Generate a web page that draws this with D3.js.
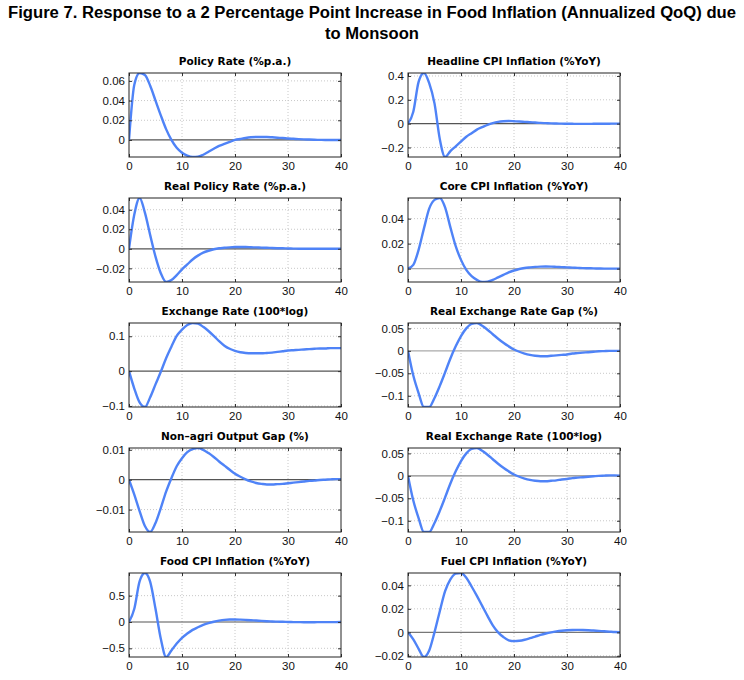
<!DOCTYPE html>
<html>
<head>
<meta charset="utf-8">
<script src="https://cdn.jsdelivr.net/npm/d3@7"></script>
<style>
  body { margin: 0; background: #fff; }
  svg { font-family: "Liberation Sans", Arial, sans-serif; }
</style>
</head>
<body>
<svg id="chart"></svg>
<script>
// quarters 0..40
const quarters = d3.range(0, 41);

const titles = [
  "Policy Rate (%p.a.)", "Headline CPI Inflation (%YoY)",
  "Real Policy Rate (%p.a.)", "Core CPI Inflation (%YoY)",
  "Exchange Rate (100*log)", "Real Exchange Rate Gap (%)",
  "Non\u2013agri Output Gap (%)", "Real Exchange Rate (100*log)",
  "Food CPI Inflation (%YoY)", "Fuel CPI Inflation (%YoY)"
];

const policyRate = [0, 0.056, 0.068, 0.066, 0.055, 0.040, 0.025, 0.011, 0.000, -0.008,
  -0.013, -0.016, -0.0173, -0.017, -0.015, -0.012, -0.009, -0.006, -0.004, -0.002,
  0.000, 0.001, 0.002, 0.0027, 0.003, 0.003, 0.003, 0.0027, 0.0023, 0.002,
  0.0015, 0.0012, 0.0009, 0.0006, 0.0004, 0.0002, 0.0001, 0, 0, 0, 0];
const headlineCpi = [0, 0.10, 0.35, 0.425, 0.34, 0.17, -0.13, -0.28, -0.23, -0.19,
  -0.15, -0.11, -0.08, -0.05, -0.03, -0.01, 0.005, 0.015, 0.02, 0.022,
  0.02, 0.018, 0.015, 0.012, 0.009, 0.006, 0.004, 0.002, 0.001, 0,
  -0.001, -0.0015, -0.002, -0.002, -0.002, -0.0015, -0.001, -0.001, -0.0005, 0, 0];
const realPolicyRate = [0, 0.035, 0.052, 0.037, 0.014, -0.008, -0.025, -0.034, -0.032, -0.027,
  -0.021, -0.016, -0.011, -0.007, -0.004, -0.002, -0.0005, 0.0005, 0.001, 0.0015,
  0.0018, 0.0019, 0.0018, 0.0016, 0.0014, 0.0012, 0.001, 0.0008, 0.0006, 0.0005,
  0.0003, 0.0002, 0.0001, 0, 0, 0, 0, 0, 0, 0, 0];
const coreCpi = [0, 0.003, 0.015, 0.032, 0.048, 0.055, 0.0565, 0.049, 0.033, 0.018,
  0.007, -0.001, -0.006, -0.009, -0.0107, -0.0105, -0.009, -0.007, -0.005, -0.003,
  -0.0015, -0.0003, 0.0005, 0.001, 0.0014, 0.0016, 0.0017, 0.0016, 0.0014, 0.0012,
  0.001, 0.0008, 0.0006, 0.0004, 0.0003, 0.0002, 0.0001, 0, 0, 0, 0];
const exchangeRate = [0, -0.05, -0.09, -0.103, -0.075, -0.038, -0.002, 0.037, 0.07, 0.101,
  0.119, 0.132, 0.138, 0.136, 0.127, 0.115, 0.101, 0.086, 0.073, 0.064,
  0.058, 0.054, 0.052, 0.051, 0.051, 0.051, 0.052, 0.053, 0.055, 0.057,
  0.059, 0.06, 0.061, 0.062, 0.063, 0.064, 0.065, 0.065, 0.066, 0.066, 0.066];
const realExchangeRateGap = [0, -0.055, -0.094, -0.125, -0.125, -0.105, -0.078, -0.048, -0.017, 0.01,
  0.033, 0.05, 0.06, 0.062, 0.056, 0.047, 0.037, 0.027, 0.018, 0.01,
  0.003, -0.002, -0.006, -0.009, -0.011, -0.012, -0.012, -0.011, -0.01, -0.009,
  -0.008, -0.006, -0.005, -0.004, -0.003, -0.002, -0.001, -0.0005, 0, 0, 0];
const outputGap = [0, -0.005, -0.0105, -0.0155, -0.0175, -0.0145, -0.0095, -0.004, 0.0005, 0.0045,
  0.0072, 0.0092, 0.0102, 0.0106, 0.01, 0.0089, 0.0076, 0.0061, 0.0047, 0.0033,
  0.002, 0.001, 0.0001, -0.0006, -0.0011, -0.0014, -0.0016, -0.0016, -0.0015, -0.0014,
  -0.0012, -0.001, -0.0008, -0.0006, -0.0004, -0.0003, -0.0001, 0, 0.0001, 0.0002, 0.0002];
const realExchangeRate = [0, -0.055, -0.094, -0.125, -0.125, -0.105, -0.078, -0.048, -0.017, 0.01,
  0.033, 0.05, 0.06, 0.062, 0.056, 0.047, 0.037, 0.027, 0.018, 0.01,
  0.003, -0.002, -0.006, -0.009, -0.011, -0.012, -0.012, -0.011, -0.01, -0.008,
  -0.007, -0.005, -0.004, -0.003, -0.002, -0.001, 0, 0.0005, 0.001, 0.001, 0.0005];
const foodCpi = [0, 0.25, 0.77, 0.93, 0.76, 0.25, -0.32, -0.665, -0.54, -0.41,
  -0.3, -0.22, -0.15, -0.1, -0.055, -0.02, 0.005, 0.025, 0.04, 0.046,
  0.047, 0.044, 0.039, 0.033, 0.027, 0.021, 0.015, 0.01, 0.006, 0.003,
  0, -0.002, -0.003, -0.004, -0.004, -0.004, -0.003, -0.003, -0.002, -0.002, -0.001];
const fuelCpi = [0, -0.006, -0.014, -0.021, -0.0155, 0, 0.018, 0.035, 0.045, 0.05,
  0.0505, 0.0465, 0.039, 0.031, 0.0225, 0.014, 0.006, 0, -0.004, -0.0068,
  -0.0075, -0.0072, -0.0063, -0.005, -0.0036, -0.0022, -0.001, 0, 0.0008, 0.0014,
  0.0018, 0.002, 0.0021, 0.002, 0.0018, 0.0015, 0.0012, 0.0009, 0.0006, 0.0003, 0.0001];

const series = [policyRate, headlineCpi, realPolicyRate, coreCpi, exchangeRate,
  realExchangeRateGap, outputGap, realExchangeRate, foodCpi, fuelCpi];

const yTicks = [
  [0, 0.02, 0.04, 0.06], [-0.2, 0, 0.2, 0.4],
  [-0.02, 0, 0.02, 0.04], [0, 0.02, 0.04],
  [-0.1, 0, 0.1], [-0.1, -0.05, 0, 0.05],
  [-0.01, 0, 0.01], [-0.1, -0.05, 0, 0.05],
  [-0.5, 0, 0.5], [-0.02, 0, 0.02, 0.04]
];
const xTicks = [0, 10, 20, 30, 40];

const zeroColors = ["#555", "#555", "#555", "#aaa", "#555", "#aaa", "#555", "#888", "#555", "#777"];

const W = 744, H = 680;
const colLeft = [129, 408];
const plotW = 212, plotH = 84;
const rowTop0 = 73, rowStep = 125;

const svg = d3.select("#chart").attr("width", W).attr("height", H);

// main title (two lines, as in the original)
svg.append("text")
  .attr("x", W / 2).attr("y", 18)
  .attr("text-anchor", "middle")
  .attr("textLength", 728).attr("lengthAdjust", "spacingAndGlyphs")
  .style("font-size", "16px").style("font-weight", "bold")
  .text("Figure 7. Response to a 2 Percentage Point Increase in Food Inflation (Annualized QoQ) due");
svg.append("text")
  .attr("x", W / 2).attr("y", 39)
  .attr("text-anchor", "middle")
  .attr("textLength", 94).attr("lengthAdjust", "spacingAndGlyphs")
  .style("font-size", "16px").style("font-weight", "bold")
  .text("to Monsoon");

const fmt = d => d === 0 ? "0" : d3.format("~g")(d);

series.forEach((values, i) => {
  const col = i % 2, row = Math.floor(i / 2);
  const g = svg.append("g")
    .attr("transform", `translate(${colLeft[col]}, ${rowTop0 + row * rowStep})`);

  const x = d3.scaleLinear().domain([0, 40]).range([0, plotW]);
  const y = d3.scaleLinear().domain(d3.extent(values)).range([plotH, 0]);

  // grid
  g.selectAll(".vgrid").data(xTicks.slice(1, -1)).join("line")
    .attr("x1", d => x(d)).attr("x2", d => x(d))
    .attr("y1", 0).attr("y2", plotH)
    .attr("stroke", "#c8c8c8").attr("stroke-dasharray", "1,2");
  g.selectAll(".hgrid").data(yTicks[i].filter(d => d !== 0)).join("line")
    .attr("x1", 0).attr("x2", plotW)
    .attr("y1", d => y(d)).attr("y2", d => y(d))
    .attr("stroke", "#c8c8c8").attr("stroke-dasharray", "1,2");

  // zero line
  g.append("line")
    .attr("x1", 0).attr("x2", plotW)
    .attr("y1", y(0)).attr("y2", y(0))
    .attr("stroke", zeroColors[i]).attr("stroke-width", 1.2);

  // curve, clipped to axes
  const clipId = "clip" + i;
  g.append("clipPath").attr("id", clipId)
    .append("rect").attr("width", plotW).attr("height", plotH);
  g.append("path")
    .datum(quarters.map((q, k) => [q, values[k]]))
    .attr("clip-path", `url(#${clipId})`)
    .attr("fill", "none")
    .attr("stroke", "#4f83f7")
    .attr("stroke-width", 2.4)
    .attr("stroke-linejoin", "round")
    .attr("d", d3.line().x(d => x(d[0])).y(d => y(d[1])).curve(d3.curveMonotoneX));

  // axes, ticks pointing inward
  const xAxis = d3.axisBottom(x).tickValues(xTicks).tickSizeInner(-3).tickSizeOuter(0).tickPadding(5);
  const yAxis = d3.axisLeft(y).tickValues(yTicks[i]).tickFormat(fmt).tickSizeInner(-3).tickSizeOuter(0).tickPadding(4);
  const xg = g.append("g").attr("transform", `translate(0, ${plotH})`).call(xAxis);
  const yg = g.append("g").call(yAxis);
  g.append("g").call(d3.axisTop(x).tickValues(xTicks).tickSizeInner(-3).tickSizeOuter(0).tickFormat(""));
  g.append("g").attr("transform", `translate(${plotW}, 0)`)
    .call(d3.axisRight(y).tickValues(yTicks[i]).tickSizeInner(-3).tickSizeOuter(0).tickFormat(""));
  g.selectAll(".domain").remove();
  g.selectAll(".tick line").attr("stroke", "#333");
  [xg, yg].forEach(a => a.selectAll("text")
    .style("font-size", "11.5px").attr("fill", "#111")
    .style("font-family", "'Liberation Sans', Arial, sans-serif"));

  // box
  g.append("rect")
    .attr("width", plotW).attr("height", plotH)
    .attr("fill", "none").attr("stroke", "#222").attr("stroke-width", 1);

  // panel title
  g.append("text")
    .attr("x", plotW / 2).attr("y", -8)
    .attr("text-anchor", "middle")
    .style("font-family", "'DejaVu Sans', sans-serif")
    .style("font-size", "10.5px").style("font-weight", "bold")
    .text(titles[i]);
});
</script>
</body>
</html>
